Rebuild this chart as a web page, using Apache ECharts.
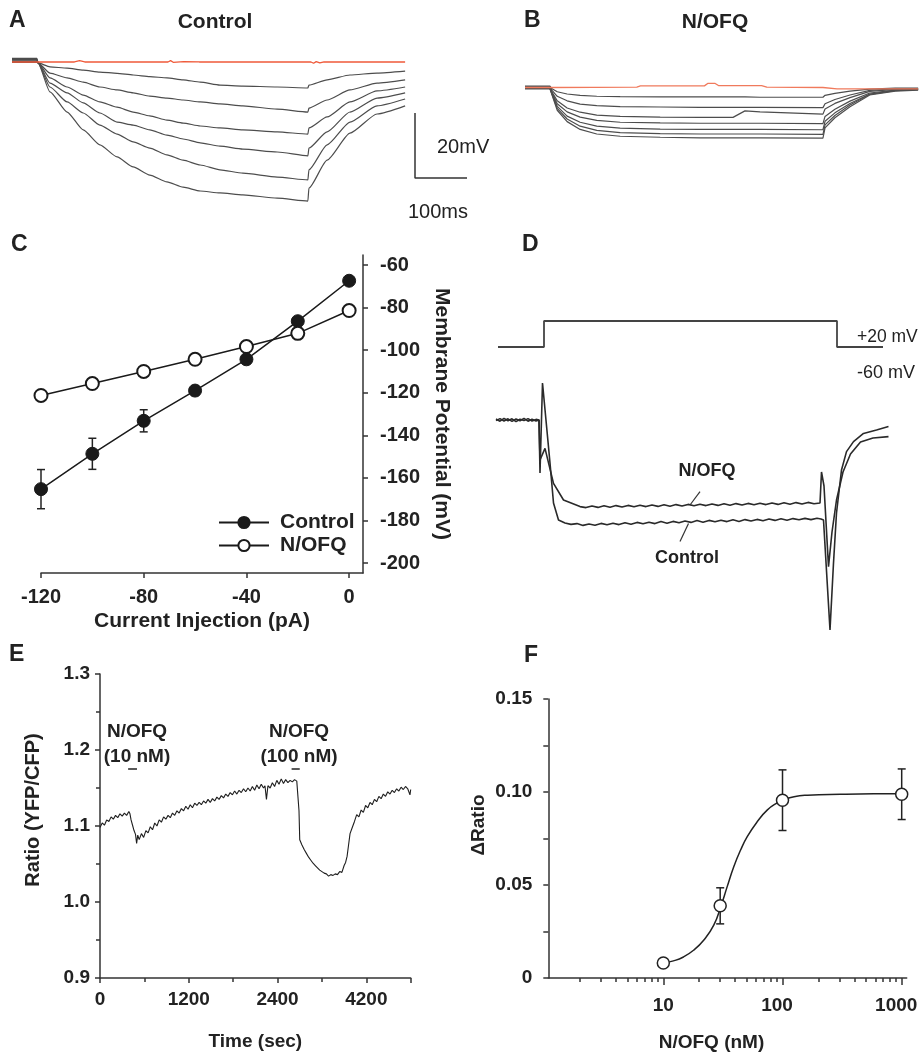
<!DOCTYPE html>
<html><head><meta charset="utf-8">
<script src="https://cdn.jsdelivr.net/npm/echarts@6/dist/echarts.min.js"></script>
<style>html,body{margin:0;padding:0;background:#fff}#chart{width:919px;height:1053px}</style>
</head><body><div id="chart"></div>
<script>
// ---------- Panel A (Control, current-clamp traces; t in ms, V in mV rel. baseline)
var aTime = [0, 48, 50, 73, 106, 137, 169, 202, 233, 265, 298, 329, 362, 400, 444, 510, 569, 571, 606, 650, 702, 756];
var aTrace1 = [0.8, 0.8, -0.6, -1.8, -2.2, -2.8, -3.4, -3.8, -4.3, -4.8, -5.2, -5.8, -6.5, -7.4, -7.7, -8.0, -8.3, -7.4, -5.8, -4.3, -3.7, -3.1];
var aTrace2 = [0.5, 0.5, -0.6, -3.7, -5.2, -6.5, -8.0, -8.9, -9.8, -10.8, -11.4, -12.0, -12.6, -13.2, -13.8, -14.8, -15.7, -14.5, -12.0, -8.9, -6.8, -5.8];
var aTrace3 = [0.3, 0.3, -0.6, -5.2, -8.0, -10.5, -12.6, -14.2, -15.7, -16.9, -18.2, -19.1, -20.0, -20.6, -21.2, -21.8, -22.5, -20.6, -17.2, -12.6, -9.2, -8.0];
var aTrace4 = [0, 0, -0.6, -6.8, -9.8, -12.9, -16.0, -18.8, -19.7, -21.2, -22.8, -24.0, -25.2, -26.2, -27.1, -28.0, -29.2, -26.8, -21.8, -15.7, -11.4, -9.8];
var aTrace5 = [-0.2, -0.2, -0.6, -8.0, -12.6, -16.0, -19.7, -22.5, -24.9, -26.8, -28.9, -30.5, -32.0, -33.5, -34.5, -35.7, -36.6, -33.5, -25.8, -18.8, -13.8, -11.7];
var aTrace6 = [-0.4, -0.4, -0.6, -9.5, -15.7, -21.2, -25.8, -29.5, -32.6, -35.1, -37.2, -38.8, -40.0, -40.6, -41.2, -42.2, -43.1, -39.1, -30.5, -22.2, -16.3, -13.8];
var aRed = [[0,-0.3],[120,-0.3],[130,0.1],[140,-0.3],[300,-0.3],[305,0.1],[310,-0.4],[330,-0.2],[360,-0.3],[575,-0.3],[580,-0.7],[585,-0.2],[592,-0.6],[600,-0.3],[756,-0.3]];
var scaleBar = [[775,-16],[775,-36],[875,-36]];

// ---------- Panel B (N/OFQ)
var bTime = [0, 48, 50, 52, 62, 81, 106, 138, 183, 260, 337, 400, 423, 452, 573, 577, 596, 625, 663, 712, 756];
var bTrace1 = [0.4, 0.4, 0, -0.4, -1.3, -2.0, -2.4, -2.7, -2.8, -2.9, -2.9, -2.9, -2.9, -3.0, -3.0, -2.4, -1.8, -1.1, -0.5, -0.2, -0.2];
var bTrace2 = [0.2, 0.2, 0, -0.9, -2.7, -4.1, -5.1, -5.6, -5.9, -6.0, -6.1, -6.1, -6.1, -6.1, -6.2, -5.0, -3.7, -2.3, -0.9, -0.4, -0.3];
var bTrace3 = [0, 0, 0, -1.4, -4.1, -6.3, -7.6, -8.5, -8.9, -9.1, -9.2, -9.2, -7.2, -7.5, -8.2, -6.6, -4.9, -3.1, -1.2, -0.6, -0.4];
var bTrace4 = [-0.1, -0.1, 0, -1.7, -5.0, -7.5, -9.1, -10.1, -10.7, -10.9, -11.0, -11.0, -11.0, -11.0, -11.1, -8.9, -6.7, -4.2, -1.7, -0.8, -0.6];
var bTrace5 = [-0.2, -0.2, 0, -1.9, -5.8, -8.8, -10.7, -11.9, -12.5, -12.8, -12.9, -12.9, -12.9, -12.9, -13.0, -10.4, -7.8, -4.9, -2.0, -0.9, -0.6];
var bTrace6 = [-0.3, -0.3, 0, -2.1, -6.4, -9.7, -11.9, -13.2, -13.9, -14.2, -14.3, -14.3, -14.3, -14.3, -14.4, -11.5, -8.6, -5.4, -2.1, -1.0, -0.7];
var bTrace7 = [-0.4, -0.4, 0, -2.3, -7.0, -10.5, -12.9, -14.3, -15.0, -15.3, -15.5, -15.5, -15.5, -15.5, -15.6, -12.4, -9.3, -5.9, -2.3, -1.1, -0.8];
var bRed = [[0,0],[50,0],[215,0.1],[222,0.5],[345,0.5],[352,1.3],[365,1.3],[372,0.6],[455,0.6],[465,0.1],[573,0],[600,-0.4],[756,-0.4]];

// ---------- Panel C (I-V)
var cCurrent = [-120, -100, -80, -60, -40, -20, 0];
var cControl = [-165.3, -148.7, -133.2, -119.0, -104.3, -86.4, -67.4];
var cControlErr = [9.2, 7.3, 5.2, 2.3, 1.5, 1.0, 0.5];
var cNofq = [-121.3, -115.7, -110.0, -104.3, -98.3, -92.1, -81.4];
var cXTicks = [-120, -80, -40, 0];
var cYTicks = [-200, -180, -160, -140, -120, -100, -80, -60];

// ---------- Panel D (voltage step + currents; t in ms, I in pA)
var dCommand = [[0,-60],[92,-60],[92,20],[678,20],[678,-60],[770,-60]];
var dControl = [[-4,5],[4,-6],[12,8],[20,-4],[28,6],[36,-8],[44,4],[52,-3],[60,7],[68,-5],[76,3],[82,0],[84,-265],[89,185],[104,-215],[111,-415],[121,-500],[134,-515],[146,-522],[158,-518],[170,-527],[182,-520],[194,-526],[206,-517],[218,-524],[230,-516],[242,-523],[254,-514],[266,-521],[278,-512],[290,-519],[302,-511],[314,-518],[326,-508],[338,-516],[350,-507],[362,-514],[374,-505],[386,-512],[398,-503],[410,-511],[422,-502],[434,-509],[446,-501],[458,-508],[470,-499],[482,-507],[494,-498],[506,-505],[518,-497],[530,-504],[542,-495],[554,-502],[566,-494],[578,-501],[590,-493],[602,-499],[614,-492],[626,-498],[638,-491],[646,-495],[651,-500],[664,-1050],[671,-715],[677,-465],[687,-250],[697,-158],[711,-108],[731,-67],[757,-50],[781,-33]];
var dNofq = [[-4,-3],[4,7],[12,-5],[20,6],[28,-7],[36,5],[44,-4],[52,8],[60,-6],[68,4],[76,-5],[82,0],[84,-200],[94,-142],[111,-317],[131,-400],[164,-433],[176,-438],[188,-430],[200,-437],[212,-429],[224,-436],[236,-428],[248,-435],[260,-427],[272,-434],[284,-426],[296,-433],[308,-425],[320,-432],[332,-424],[344,-431],[356,-423],[368,-430],[380,-422],[392,-429],[404,-421],[416,-428],[428,-420],[440,-427],[452,-419],[464,-426],[476,-418],[488,-425],[500,-417],[512,-424],[524,-416],[536,-423],[548,-415],[560,-422],[572,-414],[584,-421],[596,-413],[608,-420],[620,-412],[632,-419],[644,-415],[647,-260],[652,-330],[661,-733],[668,-560],[677,-400],[690,-260],[705,-170],[725,-110],[750,-90],[781,-83]];
var dLeaderNofq = [[404,-358],[384,-425]];
var dLeaderControl = [[381,-517],[364,-608]];

// ---------- Panel E (FRET ratio time course)
var eTrace = [[0,1.098],[30,1.104],[60,1.101],[90,1.108],[120,1.106],[150,1.112],[180,1.109],[210,1.114],[240,1.111],[270,1.116],[300,1.113],[330,1.117],[360,1.114],[390,1.119],[405,1.116],[420,1.108],[440,1.101],[460,1.094],[480,1.089],[495,1.077],[510,1.088],[530,1.082],[560,1.090],[590,1.085],[620,1.094],[650,1.091],[680,1.099],[710,1.095],[740,1.104],[770,1.100],[800,1.108],[830,1.105],[860,1.112],[890,1.109],[920,1.114],[950,1.111],[980,1.117],[1010,1.114],[1040,1.120],[1070,1.117],[1100,1.123],[1130,1.120],[1160,1.126],[1190,1.122],[1220,1.128],[1250,1.124],[1280,1.130],[1310,1.127],[1340,1.131],[1370,1.128],[1400,1.133],[1430,1.130],[1460,1.135],[1490,1.131],[1520,1.136],[1550,1.133],[1580,1.138],[1610,1.135],[1640,1.140],[1670,1.137],[1700,1.142],[1730,1.139],[1760,1.144],[1790,1.141],[1820,1.146],[1850,1.142],[1880,1.147],[1910,1.144],[1940,1.149],[1970,1.145],[2000,1.150],[2030,1.146],[2060,1.152],[2090,1.147],[2120,1.154],[2150,1.149],[2180,1.155],[2210,1.150],[2230,1.153],[2250,1.135],[2270,1.153],[2300,1.150],[2330,1.157],[2360,1.152],[2390,1.160],[2420,1.155],[2450,1.162],[2480,1.156],[2510,1.161],[2540,1.157],[2570,1.160],[2600,1.158],[2630,1.161],[2660,1.159],[2680,1.160],[2690,1.120],[2700,1.082],[2730,1.075],[2760,1.069],[2790,1.064],[2820,1.059],[2850,1.055],[2880,1.051],[2910,1.048],[2940,1.045],[2970,1.042],[3000,1.040],[3030,1.038],[3060,1.037],[3090,1.034],[3120,1.036],[3150,1.035],[3180,1.037],[3210,1.036],[3240,1.040],[3270,1.039],[3300,1.048],[3320,1.052],[3340,1.060],[3360,1.075],[3380,1.090],[3410,1.098],[3440,1.106],[3470,1.115],[3500,1.112],[3530,1.121],[3560,1.118],[3590,1.127],[3620,1.124],[3650,1.131],[3680,1.128],[3710,1.135],[3740,1.132],[3770,1.139],[3800,1.136],[3830,1.142],[3860,1.139],[3890,1.145],[3920,1.142],[3950,1.147],[3980,1.144],[4010,1.149],[4040,1.146],[4070,1.151],[4100,1.148],[4130,1.152],[4160,1.149],[4180,1.151],[4190,1.141],[4200,1.148]];
var eDrug10 = [[380,1.175],[500,1.175]];
var eDrug100 = [[2590,1.175],[2700,1.175]];
var eXTickLabels = ['0', '1200', '2400', '4200'];

// ---------- Panel F (dose response)
var fConc = [10, 30, 100, 1000];
var fMean = [0.0081, 0.0388, 0.0956, 0.0988];
var fSem = [0.0008, 0.0097, 0.0163, 0.0136];
var fFitConc = [10, 12.15, 14.76, 17.93, 21.8, 26.5, 30.5, 34.3, 39.0, 44.5, 50.6, 61.5, 74.7, 90.8, 100, 125, 162, 306, 580, 1000];
var fFitRatio = [0.0081, 0.0092, 0.0113, 0.0149, 0.0203, 0.0284, 0.0388, 0.049, 0.0598, 0.0688, 0.076, 0.0841, 0.0904, 0.0943, 0.0956, 0.0975, 0.0983, 0.0988, 0.099, 0.099];
var fMajorTicks = [10, 100, 1000];
var fMinorTicks = [2,3,4,5,6,7,8,9,20,30,40,50,60,70,80,90,200,300,400,500,600,700,800,900];

// ---------- build
var FF = '"Liberation Sans", Arial, Helvetica, sans-serif';
var AX = '#333';
function zip(t, v) { return t.map(function (x, i) { return [x, v[i]]; }); }
function lg(v) { return Math.log10(v); }
function trace(name, data, xi, color, w, z, smooth) {
  var s = { name: name, type: 'line', xAxisIndex: xi, yAxisIndex: xi, data: data, symbol: 'none',
    showSymbol: false, silent: true, z: z || 2, lineStyle: { color: color, width: w } };
  if (smooth) { s.smooth = smooth; s.smoothMonotone = 'x'; }
  return s;
}
function errRender(params, api) {
  var x = api.value(0), y = api.value(1), e = api.value(2);
  var t = api.coord([x, y + e]), b = api.coord([x, y - e]);
  var st = { stroke: '#222', lineWidth: 1.5 };
  var c = 4;
  return { type: 'group', children: [
    { type: 'line', shape: { x1: t[0], y1: t[1], x2: b[0], y2: b[1] }, style: st },
    { type: 'line', shape: { x1: t[0] - c, y1: t[1], x2: t[0] + c, y2: t[1] }, style: st },
    { type: 'line', shape: { x1: b[0] - c, y1: b[1], x2: b[0] + c, y2: b[1] }, style: st }
  ] };
}
function hiddenX(g, min, max) { return { gridIndex: g, type: 'value', min: min, max: max, show: false }; }
function hiddenY(g, min, max) { return { gridIndex: g, type: 'value', min: min, max: max, show: false }; }
var lblStyle = function (size, margin) { return { color: '#222', fontSize: size, fontWeight: 'bold', fontFamily: FF, margin: margin }; };
var nameStyle = function (size, pad) { var o = { color: '#222', fontSize: size, fontWeight: 'bold', fontFamily: FF }; if (pad) o.padding = pad; return o; };
var axLine = { show: true, onZero: false, lineStyle: { color: AX, width: 1.5 } };

var grids = [
  { left: 12, top: 35, width: 455, height: 182 },     // A
  { left: 525, top: 61.5, width: 394, height: 182 },  // B
  { left: 41, top: 255, width: 322, height: 318 },    // C
  { left: 490, top: 301.5, width: 405, height: 58.5 },// D command
  { left: 490, top: 370, width: 405, height: 270 },   // D current
  { left: 100, top: 674, width: 310.7, height: 304 }, // E
  { left: 548.3, top: 699, width: 358.4, height: 279 }, // F
  { left: 548.3, top: 699, width: 358.4, height: 279 }  // F minor ticks
].map(function (g) { g.containLabel = false; g.outerBoundsMode = 'none'; return g; });

var fLabelRich = { a: { fontSize: 19, fontWeight: 'bold', fontFamily: FF, color: '#222' },
                   b: { fontSize: 19, fontWeight: 'bold', fontFamily: FF, color: '#222', padding: [0, 11, 0, 0] } };

var xAxes = [
  hiddenX(0, 0, 875),
  hiddenX(1, 0, 757.7),
  { gridIndex: 2, type: 'value', min: -120, max: 5.4, axisLine: axLine,
    axisTick: { show: true, customValues: cXTicks, length: 5, lineStyle: { color: AX, width: 1.5 } },
    axisLabel: Object.assign({ customValues: cXTicks }, lblStyle(20, 14)),
    splitLine: { show: false },
    name: 'Current Injection (pA)', nameLocation: 'middle', nameGap: 38, nameTextStyle: nameStyle(21) },
  hiddenX(3, -16, 794),
  hiddenX(4, -16, 794),
  { gridIndex: 5, type: 'value', min: 0, max: 4200, interval: 1200, axisLine: axLine,
    axisTick: { show: true, length: 5, lineStyle: { color: AX, width: 1.5 } },
    minorTick: { show: true, splitNumber: 2, length: 4, lineStyle: { color: AX, width: 1.5 } },
    axisLabel: Object.assign({ formatter: function (v) { var i = v / 1200; return (i === Math.round(i) && eXTickLabels[i] !== undefined) ? eXTickLabels[i] : ''; } }, lblStyle(19, 12)),
    splitLine: { show: false }, minorSplitLine: { show: false },
    name: 'Time (sec)', nameLocation: 'middle', nameGap: 54, nameTextStyle: nameStyle(19) },
  { gridIndex: 6, type: 'value', min: 0.035, max: 3.042, axisLine: axLine,
    axisTick: { show: true, customValues: fMajorTicks.map(lg), length: 7, lineStyle: { color: AX, width: 1.5 } },
    axisLabel: Object.assign({ customValues: fMajorTicks.map(lg), rich: fLabelRich,
      formatter: function (v) { var s = String(Math.round(Math.pow(10, v))); return s === '10' ? '{a|' + s + '}' : '{b|' + s + '}'; } }, lblStyle(19, 18)),
    splitLine: { show: false },
    name: 'N/OFQ (nM)', nameLocation: 'middle', nameGap: 55, nameTextStyle: nameStyle(19, [0, 32, 0, 0]) },
  { gridIndex: 7, type: 'value', min: 0.035, max: 3.042, axisLine: { show: false, onZero: false },
    axisTick: { show: true, customValues: fMinorTicks.map(lg), length: 4, lineStyle: { color: AX, width: 1.5 } },
    axisLabel: { show: false }, splitLine: { show: false } }
];
var yAxes = [
  hiddenY(0, -48, 8),
  hiddenY(1, -48, 8),
  { gridIndex: 2, type: 'value', position: 'right', min: -204.7, max: -55.3, axisLine: axLine,
    axisTick: { show: true, customValues: cYTicks, length: 5, lineStyle: { color: AX, width: 1.5 } },
    axisLabel: Object.assign({ customValues: cYTicks }, lblStyle(20, 17)),
    splitLine: { show: false },
    name: 'Membrane Potential (mV)', nameLocation: 'middle', nameRotate: -90, nameGap: 68, nameTextStyle: nameStyle(21) },
  hiddenY(3, -100, 80),
  hiddenY(4, -1100, 250),
  { gridIndex: 5, type: 'value', min: 0.9, max: 1.3, interval: 0.1, axisLine: axLine,
    axisTick: { show: true, length: 5, lineStyle: { color: AX, width: 1.5 } },
    minorTick: { show: true, splitNumber: 2, length: 4, lineStyle: { color: AX, width: 1.5 } },
    axisLabel: Object.assign({ formatter: function (v) { return v.toFixed(1); } }, lblStyle(19, 10)),
    splitLine: { show: false }, minorSplitLine: { show: false },
    name: 'Ratio (YFP/CFP)', nameLocation: 'middle', nameRotate: 90, nameGap: 57, nameTextStyle: nameStyle(20, [0, 0, 0, 32]) },
  { gridIndex: 6, type: 'value', min: 0, max: 0.15, interval: 0.05, axisLine: axLine,
    axisTick: { show: true, length: 5, lineStyle: { color: AX, width: 1.5 } },
    minorTick: { show: true, splitNumber: 2, length: 5, lineStyle: { color: AX, width: 1.5 } },
    axisLabel: Object.assign({ formatter: function (v) { return v === 0 ? '0' : v.toFixed(2); } }, lblStyle(19, 16)),
    splitLine: { show: false }, minorSplitLine: { show: false },
    name: 'ΔRatio', nameLocation: 'middle', nameRotate: 90, nameGap: 60, nameTextStyle: nameStyle(19, [0, 0, 0, 27]) },
  hiddenY(7, 0, 1)
];

var TR = '#4d4d4d';
var series = [];
[aTrace1, aTrace2, aTrace3, aTrace4, aTrace5, aTrace6].forEach(function (v, i) { series.push(trace('A' + i, zip(aTime, v), 0, TR, 1.2, 2, 0.2)); });
series.push(trace('A red', aRed, 0, '#ef5a3a', 1.3, 3));
series.push(trace('scale', scaleBar, 0, '#333', 1.5));
[bTrace1, bTrace2, bTrace3, bTrace4, bTrace5, bTrace6, bTrace7].forEach(function (v, i) { series.push(trace('B' + i, zip(bTime, v), 1, TR, 1.2)); });
series.push(trace('B red', bRed, 1, '#f07a5c', 1.3, 3));

// C
series.push({ name: 'Control SEM', type: 'custom', xAxisIndex: 2, yAxisIndex: 2, z: 1, silent: true,
  renderItem: errRender, encode: { x: 0, y: 1 },
  data: cCurrent.map(function (x, i) { return [x, cControl[i], cControlErr[i]]; }) });
series.push({ name: 'Control', type: 'line', xAxisIndex: 2, yAxisIndex: 2, data: zip(cCurrent, cControl),
  symbol: 'circle', symbolSize: 13, z: 3, lineStyle: { color: '#1a1a1a', width: 1.5 },
  itemStyle: { color: '#1a1a1a', borderColor: '#1a1a1a', borderWidth: 1, opacity: 1 } });
series.push({ name: 'N/OFQ', type: 'line', xAxisIndex: 2, yAxisIndex: 2, data: zip(cCurrent, cNofq),
  symbol: 'emptyCircle', symbolSize: 13, z: 3, lineStyle: { color: '#1a1a1a', width: 1.5 },
  itemStyle: { color: '#1a1a1a', borderColor: '#1a1a1a', borderWidth: 1.5, opacity: 1 } });

// D
series.push(trace('D cmd', dCommand, 3, '#444', 1.8));
series.push({ name: 'D Control', type: 'line', xAxisIndex: 4, yAxisIndex: 4, data: dControl, symbol: 'none', silent: true, lineStyle: { color: '#2a2a2a', width: 1.6 } });
series.push({ name: 'D NOFQ', type: 'line', xAxisIndex: 4, yAxisIndex: 4, data: dNofq, symbol: 'none', silent: true, lineStyle: { color: '#2a2a2a', width: 1.6 } });
series.push({ name: 'lead1', type: 'line', xAxisIndex: 4, yAxisIndex: 4, data: dLeaderNofq, symbol: 'none', silent: true, lineStyle: { color: '#333', width: 1.2 } });
series.push({ name: 'lead2', type: 'line', xAxisIndex: 4, yAxisIndex: 4, data: dLeaderControl, symbol: 'none', silent: true, lineStyle: { color: '#333', width: 1.2 } });

// E
series.push({ name: 'E ratio', type: 'line', xAxisIndex: 5, yAxisIndex: 5, data: eTrace, symbol: 'none', silent: true, lineStyle: { color: '#1e1e1e', width: 1.1 } });
series.push({ name: 'E drug10', type: 'line', xAxisIndex: 5, yAxisIndex: 5, data: eDrug10, symbol: 'none', silent: true, lineStyle: { color: '#222', width: 1.6 } });
series.push({ name: 'E drug100', type: 'line', xAxisIndex: 5, yAxisIndex: 5, data: eDrug100, symbol: 'none', silent: true, lineStyle: { color: '#222', width: 1.6 } });

// F
series.push({ name: 'F fit', type: 'line', xAxisIndex: 6, yAxisIndex: 6, smooth: true, symbol: 'none', silent: true, z: 1,
  data: fFitConc.map(function (c, i) { return [lg(c), fFitRatio[i]]; }), lineStyle: { color: '#222', width: 1.5 } });
series.push({ name: 'F SEM', type: 'custom', xAxisIndex: 6, yAxisIndex: 6, z: 2, silent: true, renderItem: errRender, encode: { x: 0, y: 1 },
  data: fConc.map(function (c, i) { return [lg(c), fMean[i], fSem[i]]; }) });
series.push({ name: 'F mean', type: 'scatter', xAxisIndex: 6, yAxisIndex: 6, z: 3, symbol: 'circle', symbolSize: 12,
  itemStyle: { color: '#ffffff', borderColor: '#222', borderWidth: 1.5, opacity: 1 },
  data: fConc.map(function (c, i) { return [lg(c), fMean[i]]; }) });

function txt(s, x, y, size, bold, align) {
  return { type: 'text', x: x, y: y, silent: true, style: { text: s, fontSize: size, fontWeight: bold ? 'bold' : 'normal', fontFamily: FF, fill: '#222', align: align || 'left', verticalAlign: 'middle' } };
}
var graphics = [
  txt('A', 9, 21, 23, true), txt('B', 524, 21, 23, true), txt('C', 11, 245, 23, true),
  txt('D', 522, 245, 23, true), txt('E', 9, 655, 23, true), txt('F', 524, 656, 23, true),
  txt('Control', 215, 22, 21, true, 'center'), txt('N/OFQ', 715, 22, 21, true, 'center'),
  txt('20mV', 437, 147, 20, false), txt('100ms', 408, 212, 20, false),
  txt('+20 mV', 857, 337, 17.5, false), txt('-60 mV', 857, 373, 18, false),
  txt('N/OFQ', 707, 471, 18, true, 'center'), txt('Control', 687, 558, 18, true, 'center'),
  txt('N/OFQ', 137, 732, 19, true, 'center'), txt('(10 nM)', 137, 757, 19, true, 'center'),
  txt('N/OFQ', 299, 732, 19, true, 'center'), txt('(100 nM)', 299, 757, 19, true, 'center')
];

var chart = echarts.init(document.getElementById('chart'), null, { renderer: 'canvas' });
chart.setOption({
  backgroundColor: '#fff',
  animation: false,
  textStyle: { fontFamily: FF },
  grid: grids,
  xAxis: xAxes,
  yAxis: yAxes,
  legend: { data: ['Control', 'N/OFQ'], orient: 'vertical', left: 213, top: 507, itemWidth: 50, itemHeight: 14, itemGap: 2,
    selectedMode: false, textStyle: { fontSize: 21, fontWeight: 'bold', fontFamily: FF, color: '#222', padding: [0, 0, 0, 6] } },
  series: series,
  graphic: graphics
});
</script></body></html>
